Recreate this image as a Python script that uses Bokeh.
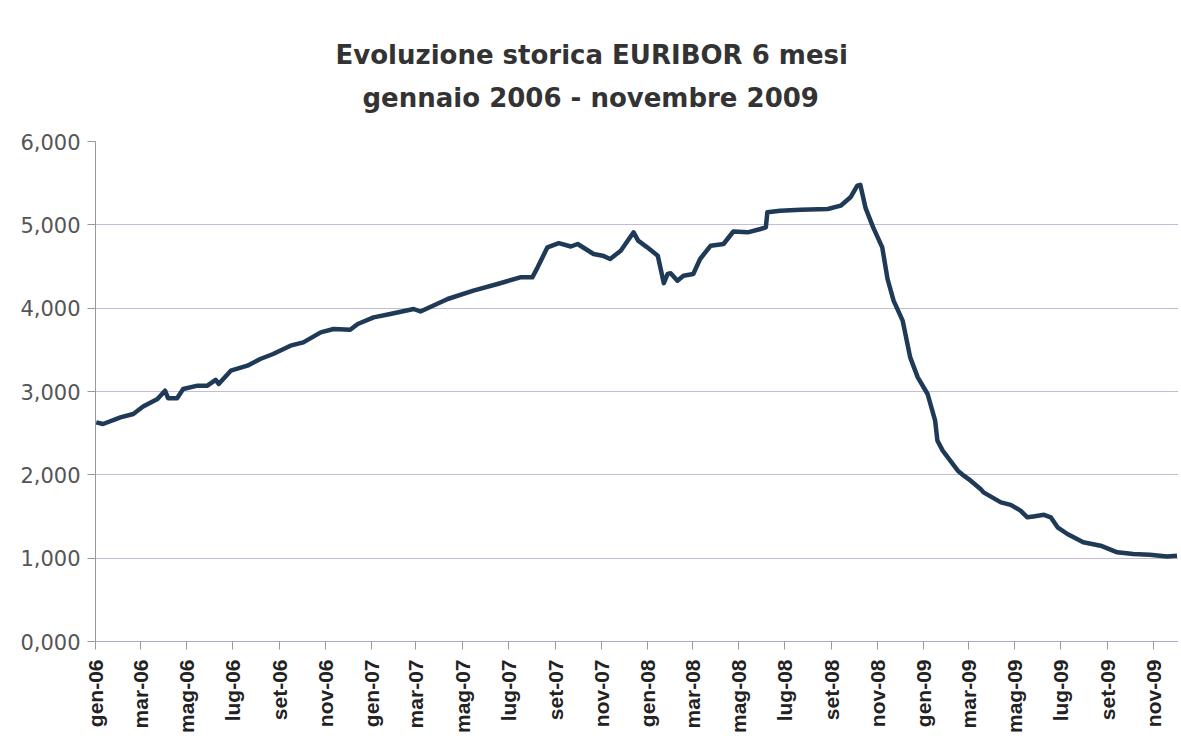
import pandas as pd
from bokeh.plotting import figure
from bokeh.models import FixedTicker, Title, Range1d
from bokeh.embed import file_html
from bokeh.resources import INLINE

# ---- data ----
dates = ["2006-01-02", "2006-01-11", "2006-02-03", "2006-02-20", "2006-03-05", "2006-03-24",
         "2006-04-03", "2006-04-07", "2006-04-19", "2006-04-27", "2006-05-16", "2006-05-29",
         "2006-06-09", "2006-06-13", "2006-06-29", "2006-07-21", "2006-08-07", "2006-08-24",
         "2006-09-16", "2006-10-03", "2006-10-26", "2006-11-12", "2006-12-04", "2006-12-14",
         "2007-01-04", "2007-01-26", "2007-02-26", "2007-03-07", "2007-04-12", "2007-05-16",
         "2007-06-17", "2007-07-17", "2007-08-02", "2007-08-09", "2007-08-22", "2007-09-06",
         "2007-09-22", "2007-10-01", "2007-10-22", "2007-11-03", "2007-11-13", "2007-11-27",
         "2007-12-14", "2007-12-20", "2008-01-01", "2008-01-15", "2008-01-23", "2008-01-28",
         "2008-02-01", "2008-02-10", "2008-02-18", "2008-03-02", "2008-03-11", "2008-03-25",
         "2008-04-11", "2008-04-24", "2008-05-13", "2008-05-30", "2008-06-06", "2008-06-08",
         "2008-06-25", "2008-07-22", "2008-08-27", "2008-09-13", "2008-09-26", "2008-10-05",
         "2008-10-09", "2008-10-16", "2008-10-26", "2008-11-07", "2008-11-14", "2008-11-22",
         "2008-12-04", "2008-12-14", "2008-12-24", "2009-01-06", "2009-01-16", "2009-01-19",
         "2009-01-26", "2009-02-05", "2009-02-15", "2009-02-23", "2009-03-04", "2009-03-17",
         "2009-03-21", "2009-04-13", "2009-04-26", "2009-05-09", "2009-05-18", "2009-05-26",
         "2009-06-09", "2009-06-18", "2009-06-27", "2009-07-10", "2009-07-31", "2009-08-23",
         "2009-09-14", "2009-10-05", "2009-10-27", "2009-11-19", "2009-12-02"]
euribor_6m = [2.63, 2.61, 2.69, 2.73, 2.82, 2.91,
              3.01, 2.92, 2.92, 3.03, 3.07, 3.07,
              3.14, 3.09, 3.25, 3.31, 3.39, 3.45,
              3.55, 3.59, 3.71, 3.75, 3.74, 3.81,
              3.89, 3.93, 3.99, 3.96, 4.11, 4.21,
              4.29, 4.37, 4.37, 4.49, 4.73, 4.78,
              4.74, 4.77, 4.65, 4.63, 4.59, 4.69,
              4.91, 4.81, 4.73, 4.63, 4.30, 4.41,
              4.42, 4.33, 4.39, 4.41, 4.59, 4.75,
              4.77, 4.92, 4.91, 4.95, 4.97, 5.15,
              5.17, 5.18, 5.19, 5.23, 5.33, 5.47,
              5.48, 5.20, 4.97, 4.73, 4.35, 4.09,
              3.85, 3.41, 3.17, 2.97, 2.65, 2.41,
              2.29, 2.17, 2.05, 1.99, 1.93, 1.83,
              1.79, 1.67, 1.64, 1.57, 1.49, 1.50,
              1.52, 1.49, 1.37, 1.29, 1.19, 1.15,
              1.07, 1.05, 1.04, 1.02, 1.03]

tick_dates = ["2006-01-01", "2006-03-01", "2006-05-01", "2006-07-01", "2006-09-01", "2006-11-01",
              "2007-01-01", "2007-03-01", "2007-05-01", "2007-07-01", "2007-09-01", "2007-11-01",
              "2008-01-01", "2008-03-01", "2008-05-01", "2008-07-01", "2008-09-01", "2008-11-01",
              "2009-01-01", "2009-03-01", "2009-05-01", "2009-07-01", "2009-09-01", "2009-11-01"]
tick_labels = ["gen-06", "mar-06", "mag-06", "lug-06", "set-06", "nov-06",
               "gen-07", "mar-07", "mag-07", "lug-07", "set-07", "nov-07",
               "gen-08", "mar-08", "mag-08", "lug-08", "set-08", "nov-08",
               "gen-09", "mar-09", "mag-09", "lug-09", "set-09", "nov-09"]
y_ticks = [0, 1, 2, 3, 4, 5, 6]
y_labels = ["0,000", "1,000", "2,000", "3,000", "4,000", "5,000", "6,000"]

title_line1 = "Evoluzione storica EURIBOR 6 mesi"
title_line2 = "gennaio 2006 - novembre 2009"

# ---- figure ----
x = pd.to_datetime(dates)
x_start = pd.Timestamp("2006-01-01")
x_end = pd.Timestamp("2009-12-04")

p = figure(width=1178, height=742, x_axis_type="datetime",
           output_backend="svg", toolbar_location=None,
           x_range=Range1d(x_start, x_end), y_range=Range1d(0, 6),
           min_border_left=95, min_border_right=0, min_border_top=141,
           min_border_bottom=101, title=None)

p.add_layout(Title(text=title_line2, align="left", offset=267,
                   text_font="DejaVu Sans", text_font_size="26px",
                   text_font_style="bold", text_color="#333333", standoff=57), "above")
p.add_layout(Title(text=title_line1, align="left", offset=240,
                   text_font="DejaVu Sans", text_font_size="26px",
                   text_font_style="bold", text_color="#333333", standoff=-35), "above")

p.line(x, euribor_6m, line_color="#1f3a56", line_width=4.5, line_join="round")

# axes
tick_ms = [int(pd.Timestamp(d).value // 10**6) for d in tick_dates]
p.xaxis.ticker = FixedTicker(ticks=tick_ms)
p.xaxis.major_label_overrides = {t: l for t, l in zip(tick_ms, tick_labels)}
p.xaxis.major_label_orientation = 1.5707963
p.xaxis.major_label_text_font = "Liberation Sans"
p.xaxis.major_label_text_font_style = "bold"
p.xaxis.major_label_text_font_size = "21px"
p.xaxis.major_label_text_color = "#222222"
p.xaxis.major_label_standoff = 10
p.xaxis.axis_line_color = "#b0a8c8"
p.xaxis.major_tick_line_color = "#999999"
p.xaxis.major_tick_out = 8
p.xaxis.major_tick_in = 0
p.xaxis.minor_tick_line_color = None

p.yaxis.ticker = FixedTicker(ticks=y_ticks)
p.yaxis.major_label_overrides = {t: l for t, l in zip(y_ticks, y_labels)}
p.yaxis.major_label_text_font = "DejaVu Sans"
p.yaxis.major_label_text_font_size = "21px"
p.yaxis.major_label_text_color = "#555555"
p.yaxis.major_label_standoff = 7
p.yaxis.axis_line_color = "#999999"
p.yaxis.major_tick_line_color = "#999999"
p.yaxis.major_tick_out = 8
p.yaxis.major_tick_in = 0
p.yaxis.minor_tick_line_color = None

p.xgrid.grid_line_color = None
p.ygrid.ticker = FixedTicker(ticks=y_ticks)
p.ygrid.grid_line_color = "#c4bcd6"
p.ygrid.grid_line_width = 1
p.outline_line_color = None
p.background_fill_color = "white"
p.border_fill_color = "white"

open("out.html", "w").write(file_html(p, INLINE))
